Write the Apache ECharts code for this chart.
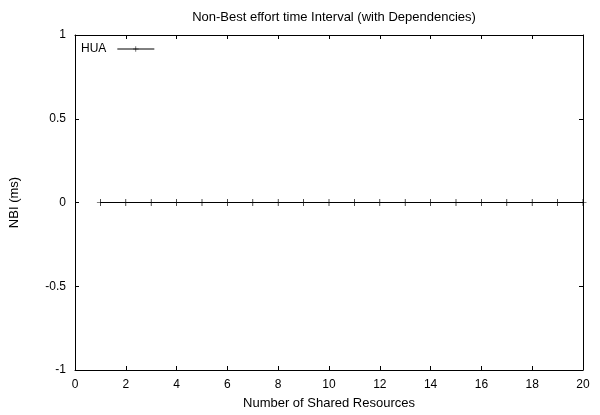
<!DOCTYPE html>
<html>
<head>
<meta charset="utf-8">
<script src="https://cdn.jsdelivr.net/npm/echarts@6/dist/echarts.min.js"></script>
<style>html,body{margin:0;padding:0;background:#fff}#c{width:600px;height:415px}</style>
</head>
<body>
<div id="c"></div>
<script>
var xValues = [1,2,3,4,5,6,7,8,9,10,11,12,13,14,15,16,17,18,19,20];
var huaValues = [0,0,0,0,0,0,0,0,0,0,0,0,0,0,0,0,0,0,0,0];
var seriesName = 'HUA';
var titleText = 'Non-Best effort time Interval (with Dependencies)';
var xName = 'Number of Shared Resources';
var yName = 'NBI (ms)';

var font = 'Liberation Sans, Arial, sans-serif';
var plus = 'path://M0,4.5H10V5.5H0Z M4.5,0H5.5V10H4.5Z';
var chart = echarts.init(document.getElementById('c'), null, {renderer:'canvas'});
var tickStyle = {show:true, inside:true, length:4, lineStyle:{color:'#000', width:1}};
var lineStyle = {show:true, onZero:false, lineStyle:{color:'#000', width:1}};
chart.setOption({
  animation:false,
  backgroundColor:'#fff',
  title:{text:titleText, left:329, textAlign:'center', top:6, textStyle:{fontFamily:font, fontSize:13, fontWeight:'normal', color:'#000'}},
  legend:{data:[{name:seriesName}], left:76, top:38, align:'right', itemWidth:37, itemHeight:7, itemGap:0,
    lineStyle:{width:1, color:'#000'},
    textStyle:{fontFamily:font, fontSize:12, color:'#000', padding:[0,6,0,0]}},
  grid:{left:75, right:17, top:35, bottom:41},
  xAxis:[{type:'value', min:0, max:20, interval:2, position:'bottom',
    name:xName, nameLocation:'middle', nameGap:27, nameTextStyle:{fontFamily:font, fontSize:13, color:'#000'},
    axisLine:lineStyle, axisTick:tickStyle, splitLine:{show:false},
    axisLabel:{fontFamily:font, fontSize:12, color:'#000', margin:9}},
    {type:'value', min:0, max:20, interval:2, position:'top', axisLine:lineStyle, axisTick:tickStyle, splitLine:{show:false}, axisLabel:{show:false}}],
  yAxis:[{type:'value', min:-1, max:1, interval:0.5, position:'left',
    name:yName, nameLocation:'middle', nameGap:54, nameTextStyle:{fontFamily:font, fontSize:13, color:'#000'},
    axisLine:lineStyle, axisTick:tickStyle, splitLine:{show:false},
    axisLabel:{fontFamily:font, fontSize:12, color:'#000', margin:9}},
    {type:'value', min:-1, max:1, interval:0.5, position:'right', axisLine:lineStyle, axisTick:tickStyle, splitLine:{show:false}, axisLabel:{show:false}}],
  series:[{name:seriesName, type:'line', data:xValues.map(function(x,i){return [x, huaValues[i]];}),
    symbol:plus, symbolSize:7, showSymbol:true,
    lineStyle:{color:'#000', width:1}, itemStyle:{color:'#000'}}]
});
</script>
</body>
</html>
